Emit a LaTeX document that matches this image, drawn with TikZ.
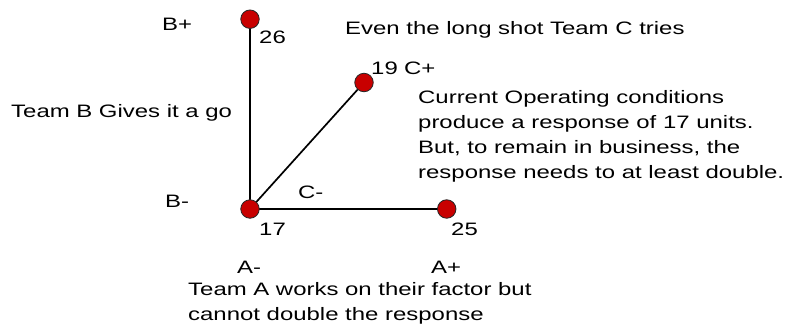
\documentclass[tikz,border=0pt]{standalone}
\usepackage{fontspec}
\setmainfont{Liberation Sans}[FakeStretch=1.33]
\usetikzlibrary{backgrounds}
\definecolor{dotred}{RGB}{200,0,0}
\begin{document}
\begin{tikzpicture}[x=1pt,y=-1pt,
  dotnode/.style={circle,draw=black!85,line width=0.8pt,fill=dotred,minimum size=18.5pt,inner sep=0pt},
  lbl/.style={anchor=base west,inner sep=0pt,font=\fontsize{18}{25}\selectfont},
  axis/.style={draw=black,line width=1.7pt}]
\useasboundingbox (0,0) rectangle (785,335);
% dots
\node[dotnode] (o)  at (250,209) {};
\node[dotnode] (bp) at (250,19.2) {};
\node[dotnode] (ap) at (446.7,209) {};
\node[dotnode] (cp) at (364,82.5) {};
\begin{pgfonlayer}{background}
\draw[axis] (o.center) -- (bp.center);
\draw[axis] (o.center) -- (ap.center);
\draw[axis] (o.center) -- (cp.center);
\end{pgfonlayer}
% labels
\node[lbl] (tbp) at (162,30) {B+};
\node[lbl] (t26) at (259,43.5) {26};
\node[lbl] (teven) at (345,34) {Even the long shot Team C tries};
\node[lbl] (t19) at (371,74) {19};
\node[lbl] (tcp) at (404,74) {C+};
\node[lbl] (tteamb) at (11,117) {Team B Gives it a go};
\node[lbl,align=left] (tcur) at (418,178) {Current Operating conditions\\produce a response of 17 units.\\But, to remain in business, the\\response needs to at least double.};
\node[lbl] (tbm) at (165,207) {B-};
\node[lbl] (tcm) at (298,198) {C-};
\node[lbl] (t17) at (259,235) {17};
\node[lbl] (t25) at (451,235) {25};
\node[lbl] (tam) at (237,273) {A-};
\node[lbl] (tap) at (431,273) {A+};
\node[lbl,align=left] (tteama) at (188,320) {Team A works on their factor but\\cannot double the response};
\end{tikzpicture}
\end{document}
